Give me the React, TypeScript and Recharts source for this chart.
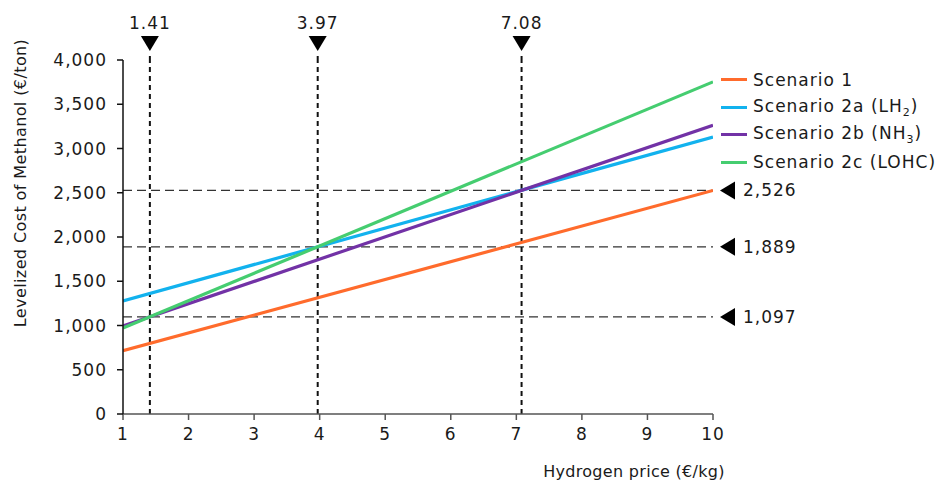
import { LineChart, Line, XAxis, YAxis, ReferenceLine, Label } from 'recharts';

const hydrogenPrice = [1, 10];
const scenario1 = [715, 2526];
const scenario2a = [1277, 3130];
const scenario2b = [994, 3262];
const scenario2c = [972, 3753];

const breakEvenPrices = [1.41, 3.97, 7.08];
const breakEvenCosts = [1097, 1889, 2526];

const xTicks = [1, 2, 3, 4, 5, 6, 7, 8, 9, 10];
const yTicks = [0, 500, 1000, 1500, 2000, 2500, 3000, 3500, 4000];

const series = [
  { key: 's1', name: 'Scenario 1', sub: '', color: '#FF6B2C' },
  { key: 's2a', name: 'Scenario 2a (LH', sub: '2', color: '#12B2EE' },
  { key: 's2b', name: 'Scenario 2b (NH', sub: '3', color: '#7232A6' },
  { key: 's2c', name: 'Scenario 2c (LOHC)', sub: '', color: '#45CD70' },
];

const data = hydrogenPrice.map((x, i) => ({
  x,
  s1: scenario1[i],
  s2a: scenario2a[i],
  s2b: scenario2b[i],
  s2c: scenario2c[i],
}));

const FONT = '"DejaVu Sans", Verdana, sans-serif';
const fmt = (v: number) => v.toLocaleString('en-US');

const tickStyle = { fontSize: 17, fill: '#1a1a1a', fontFamily: FONT, letterSpacing: 1 };

function VLabel(props: any) {
  const { viewBox, text } = props;
  const x = viewBox.x;
  const y = viewBox.y;
  return (
    <g>
      <line x1={x} x2={x} y1={y - 4} y2={y} stroke="#111" strokeWidth={2} />
      <polygon points={`${x - 9},${y - 24} ${x + 9},${y - 24} ${x},${y - 9}`} fill="#000" />
      <text x={x} y={y - 31} textAnchor="middle" {...tickStyle}>{text}</text>
    </g>
  );
}

function HLabel(props: any) {
  const { viewBox, text } = props;
  const x = viewBox.x + viewBox.width;
  const y = viewBox.y;
  return (
    <g>
      <polygon points={`${x + 7},${y} ${x + 22},${y - 9} ${x + 22},${y + 9}`} fill="#000" />
      <text x={x + 30} y={y} dominantBaseline="central" {...tickStyle}>{text}</text>
    </g>
  );
}

function ChartLegend() {
  return (
    <div
      style={{
        position: 'absolute',
        left: 721,
        top: 66,
        fontFamily: FONT,
        fontSize: 17,
        letterSpacing: 1,
        color: '#1a1a1a',
      }}
    >
      {series.map((s) => (
        <div key={s.key} style={{ display: 'flex', alignItems: 'center', height: 27.5 }}>
          <span style={{ display: 'inline-block', width: 26, height: 3, background: s.color, marginRight: 6 }} />
          <span style={{ whiteSpace: 'nowrap' }}>
            {s.name}
            {s.sub && <sub style={{ fontSize: 11 }}>{s.sub}</sub>}
            {s.sub && ')'}
          </span>
        </div>
      ))}
    </div>
  );
}

export default function App() {
  return (
    <div style={{ position: 'absolute', left: 0, top: 0, width: 941, height: 484, background: '#fff' }}>
      <LineChart
        width={941}
        height={484}
        data={data}
        margin={{ top: 60, right: 228, bottom: 40, left: 0 }}
      >
        <XAxis
          dataKey="x"
          type="number"
          domain={[1, 10]}
          ticks={xTicks}
          tick={tickStyle}
          tickSize={6}
          tickMargin={8}
          height={30}
          stroke="#555"
          strokeWidth={1.5}
          allowDataOverflow
        >
          <Label
            content={() => (
              <text
                x={634}
                y={471}
                textAnchor="middle"
                dominantBaseline="central"
                fontSize={16}
                fontFamily={FONT}
                letterSpacing={0.3}
                fill="#1a1a1a"
              >
                Hydrogen price (€/kg)
              </text>
            )}
          />
        </XAxis>
        <YAxis
          type="number"
          domain={[0, 4000]}
          ticks={yTicks}
          tickFormatter={fmt}
          tick={tickStyle}
          tickSize={6}
          tickMargin={10}
          width={123}
          stroke="#111"
          strokeWidth={1.5}
          allowDataOverflow
        >
          <Label
            content={() => (
              <text
                x={20}
                y={183}
                transform="rotate(-90 20 183)"
                textAnchor="middle"
                dominantBaseline="central"
                fontSize={16}
                fontFamily={FONT}
                letterSpacing={0.4}
                fill="#1a1a1a"
              >
                Levelized Cost of Methanol (€/ton)
              </text>
            )}
          />
        </YAxis>
        {breakEvenCosts.map((c) => (
          <ReferenceLine
            key={`h${c}`}
            y={c}
            stroke="#333"
            strokeWidth={1.3}
            strokeDasharray="9 5"
            label={(p: any) => <HLabel {...p} text={fmt(c)} />}
          />
        ))}
        {breakEvenPrices.map((p) => (
          <ReferenceLine
            key={`v${p}`}
            x={p}
            stroke="#111"
            strokeWidth={2}
            strokeDasharray="5 4"
            label={(lp: any) => <VLabel {...lp} text={p.toFixed(2)} />}
          />
        ))}
        {series.map((s) => (
          <Line
            key={s.key}
            type="linear"
            dataKey={s.key}
            stroke={s.color}
            strokeWidth={3.2}
            dot={false}
            activeDot={false}
            isAnimationActive={false}
          />
        ))}
      </LineChart>
      <ChartLegend />
    </div>
  );
}
